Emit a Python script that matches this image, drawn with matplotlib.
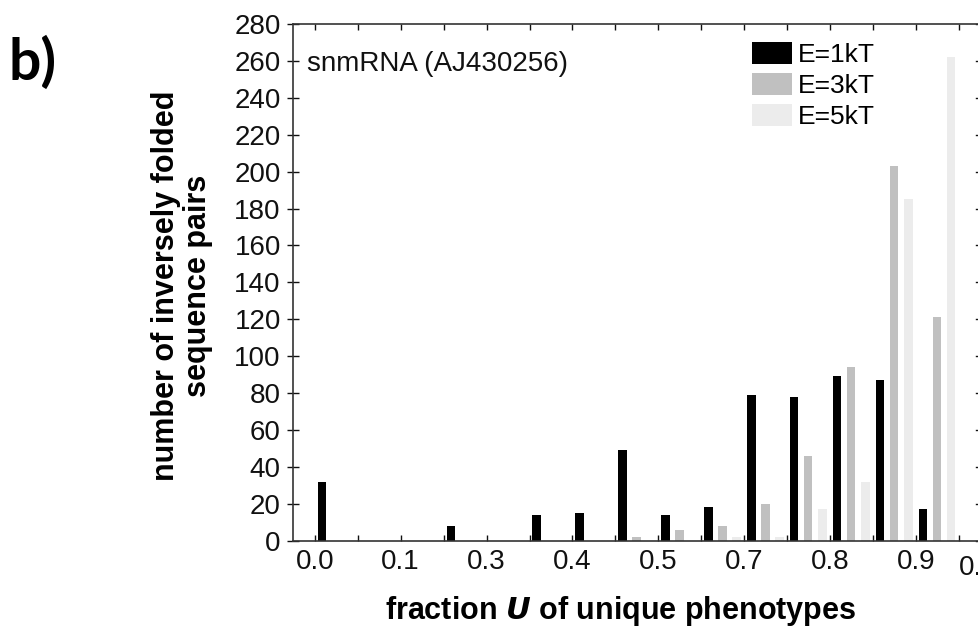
import matplotlib
matplotlib.use("Agg")
import matplotlib.pyplot as plt
import numpy as np

# ---- data ----
bin_labels = ["0.0", "", "0.1", "", "0.3", "", "0.4", "", "0.5", "", "0.7", "", "0.8", "", "0.9", ""]
series_names = ["E=1kT", "E=3kT", "E=5kT"]
e1 = [32, 0, 0, 8, 0, 14, 15, 49, 14, 18, 79, 78, 89, 87, 17]
e3 = [0, 0, 0, 0, 0, 0, 0, 2, 6, 8, 20, 46, 94, 203, 121]
e5 = [0, 0, 0, 0, 0, 0, 0, 0, 0, 2, 2, 17, 32, 185, 262]
y_ticks = list(range(0, 281, 20))
colors = ["#000000", "#c0c0c0", "#ececec"]

plt.rcParams['font.family'] = ['Liberation Sans', 'DejaVu Sans']

W, H = 979, 631
fig = plt.figure(figsize=(W / 100, H / 100), dpi=100)
ax = fig.add_axes([293.3 / W, 1 - 540.7 / H, (980.5 - 293.3) / W, (540.7 - 24) / H])

x = np.arange(len(e1))
offsets = [0.165, 0.49, 0.82]
handles = []
for vals, off, c, name in zip([e1, e3, e5], offsets, colors, series_names):
    h = ax.bar(x + off, vals, width=0.195, color=c, label=name, linewidth=0)
    handles.append(h)

ax.set_xlim(-0.5, 15.5)
ax.set_ylim(0, 280)
ax.set_xticks(np.arange(16))
ax.set_xticklabels(bin_labels)
ax.set_yticks(y_ticks)

for s in ax.spines.values():
    s.set_linewidth(1.2)
    s.set_color("#333333")

ax.tick_params(axis='x', which='both', direction='in', length=4, width=1,
               top=True, bottom=True, labelsize=20, pad=6, colors='#111111')
ax.tick_params(axis='y', which='both', direction='inout', length=8, width=1,
               left=True, right=False, labelsize=20, pad=5, colors='#111111')
for yv in y_ticks:
    ax.plot([15.5 - 0.11, 15.5], [yv, yv], color='#111111', lw=1, clip_on=False)

# cut-off label of neighbouring panel
fig.text(959 / W, 1 - 555 / H, "0.0", fontsize=20, ha='left', va='top', color='#111111')

ax.text(306.7 / W, 1 - 71 / H, "snmRNA (AJ430256)", transform=fig.transFigure,
        fontsize=20, va='baseline', ha='left', color='#111111')

leg = ax.legend(handles=handles, loc='upper left',
                bbox_to_anchor=(752 / W, 1 - 42 / H), bbox_transform=fig.transFigure,
                frameon=False, fontsize=19, handlelength=1.52, handleheight=0.91,
                handletextpad=0.22, labelspacing=0.22, borderpad=0, borderaxespad=0)

fig.text(621 / W, 1 - 611 / H, r"fraction $\boldsymbol{U}$ of unique phenotypes",
         ha='center', va='center', fontsize=22, fontweight='bold')
fig.text(182 / W, 1 - 286 / H, "number of inversely folded\nsequence pairs",
         ha='center', va='center', rotation=90, fontsize=22, fontweight='bold',
         multialignment='center', linespacing=1.05)

fig.text(9 / W, 1 - 80 / H, "b)", ha='left', va='baseline', fontsize=41,
         fontweight='bold', family=['Lato', 'DejaVu Sans'])

fig.savefig("out.png", dpi=100)
